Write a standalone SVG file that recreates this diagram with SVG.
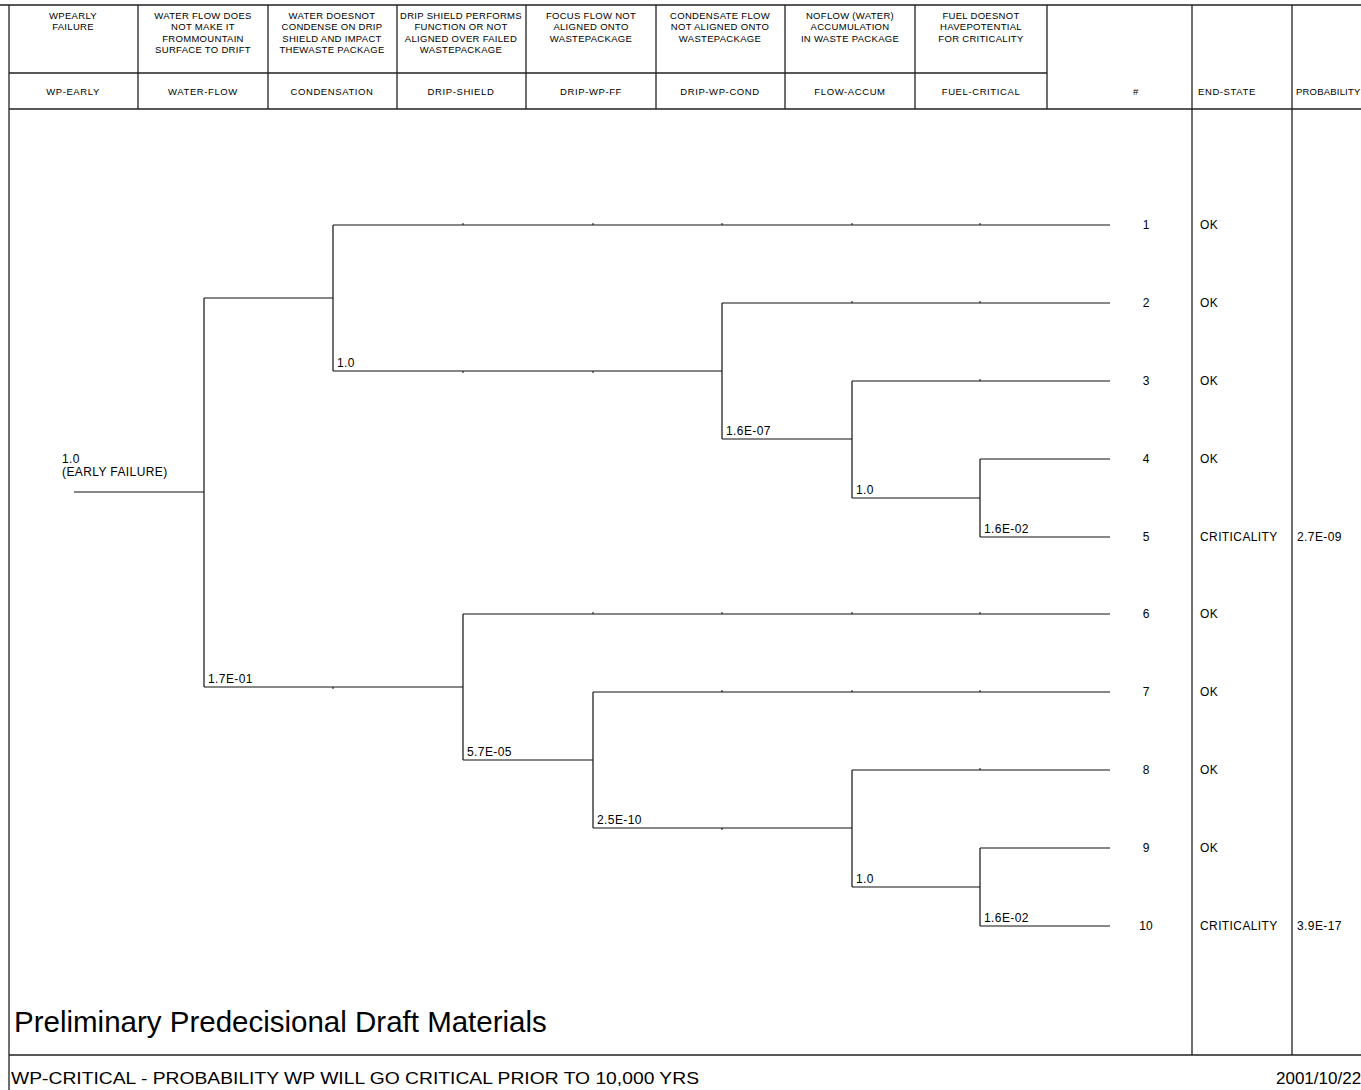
<svg xmlns="http://www.w3.org/2000/svg" width="1361" height="1090" viewBox="0 0 1361 1090">
<style>
text{font-family:"Liberation Sans",Arial,sans-serif;fill:#000}
.h{font-size:9.5px;text-anchor:middle;letter-spacing:0.3px}
.h2{font-size:9.5px;text-anchor:middle;letter-spacing:0.6px}
.l{font-size:12px;letter-spacing:0.4px}
.n{font-size:12px;text-anchor:middle}
.frame{stroke:#222;stroke-width:1.3;fill:none}
.ln{stroke:#111;stroke-width:1.2;fill:none}
.tk{stroke:#111;stroke-width:1;fill:none}
</style>
<rect width="1361" height="1090" fill="#fff"/>
<g id="frame">
<path class="frame" d="M9,5V1090M0,5H1361M9,109H1361M9,73H1047M9,1055H1361"/>
<path class="frame" d="M138,5V109M268,5V109M397,5V109M526,5V109M656,5V109M785,5V109M915,5V109M1047,5V109M1192,5V1055M1292,5V1055"/>
</g>
<g id="header">
<text class="h" y="18.5"><tspan x="73">WPEARLY</tspan><tspan x="73" dy="11.5">FAILURE</tspan></text>
<text class="h" y="18.5"><tspan x="203">WATER FLOW DOES</tspan><tspan x="203" dy="11.5">NOT MAKE IT</tspan><tspan x="203" dy="11.5">FROMMOUNTAIN</tspan><tspan x="203" dy="11.5">SURFACE TO DRIFT</tspan></text>
<text class="h" y="18.5"><tspan x="332">WATER DOESNOT</tspan><tspan x="332" dy="11.5">CONDENSE ON DRIP</tspan><tspan x="332" dy="11.5">SHIELD AND IMPACT</tspan><tspan x="332" dy="11.5">THEWASTE PACKAGE</tspan></text>
<text class="h" y="18.5"><tspan x="461">DRIP SHIELD PERFORMS</tspan><tspan x="461" dy="11.5">FUNCTION OR NOT</tspan><tspan x="461" dy="11.5">ALIGNED OVER FAILED</tspan><tspan x="461" dy="11.5">WASTEPACKAGE</tspan></text>
<text class="h" y="18.5"><tspan x="591">FOCUS FLOW NOT</tspan><tspan x="591" dy="11.5">ALIGNED ONTO</tspan><tspan x="591" dy="11.5">WASTEPACKAGE</tspan></text>
<text class="h" y="18.5"><tspan x="720">CONDENSATE FLOW</tspan><tspan x="720" dy="11.5">NOT ALIGNED ONTO</tspan><tspan x="720" dy="11.5">WASTEPACKAGE</tspan></text>
<text class="h" y="18.5"><tspan x="850">NOFLOW (WATER)</tspan><tspan x="850" dy="11.5">ACCUMULATION</tspan><tspan x="850" dy="11.5">IN WASTE PACKAGE</tspan></text>
<text class="h" y="18.5"><tspan x="981">FUEL DOESNOT</tspan><tspan x="981" dy="11.5">HAVEPOTENTIAL</tspan><tspan x="981" dy="11.5">FOR CRITICALITY</tspan></text>
<text class="h2" x="73" y="95">WP-EARLY</text>
<text class="h2" x="203" y="95">WATER-FLOW</text>
<text class="h2" x="332" y="95">CONDENSATION</text>
<text class="h2" x="461" y="95">DRIP-SHIELD</text>
<text class="h2" x="591" y="95">DRIP-WP-FF</text>
<text class="h2" x="720" y="95">DRIP-WP-COND</text>
<text class="h2" x="850" y="95">FLOW-ACCUM</text>
<text class="h2" x="981" y="95">FUEL-CRITICAL</text>
<text class="h2" x="1136" y="95">#</text>
<text class="h2" x="1198" y="95" style="text-anchor:start">END-STATE</text>
<text class="h2" x="1296" y="95" style="text-anchor:start;letter-spacing:0.2px">PROBABILITY</text>
</g>
<g id="connectors">
<path class="ln" d="M74,492H204M204,298V687M204,298H333M333,225V371M333,225H1110M333,371H722M722,303V439M722,303H1110M722,439H852M852,381V498M852,381H1110M852,498H980M980,459V537M980,459H1110M980,537H1110"/>
<path class="ln" d="M204,687H463M463,614V760M463,614H1110M463,760H593M593,692V828M593,692H1110M593,828H852M852,770V887M852,770H1110M852,887H980M980,848V926M980,848H1110M980,926H1110"/>
<path class="tk" d="M463,223V225M593,223V225M722,223V225M852,223V225M980,223V225M463,371V373M593,371V373M852,303V301M980,303V301M980,381V379M333,687V689M593,614V612M722,614V612M852,614V612M980,614V612M722,692V690M852,692V690M980,692V690M722,828V830M980,770V768"/>
</g>
<g id="root"><text class="l" x="62" y="463">1.0</text><text class="l" x="62" y="476">(EARLY FAILURE)</text></g>
<g id="branch-labels">
<text class="l" x="337" y="367">1.0</text>
<text class="l" x="726" y="435">1.6E-07</text>
<text class="l" x="856" y="494">1.0</text>
<text class="l" x="984" y="533">1.6E-02</text>
<text class="l" x="208" y="683">1.7E-01</text>
<text class="l" x="467" y="756">5.7E-05</text>
<text class="l" x="597" y="824">2.5E-10</text>
<text class="l" x="856" y="883">1.0</text>
<text class="l" x="984" y="922">1.6E-02</text>
</g>
<g id="end-states">
<g id="seq1"><text class="n" x="1146" y="229">1</text><text class="l" x="1200" y="229">OK</text></g>
<g id="seq2"><text class="n" x="1146" y="307">2</text><text class="l" x="1200" y="307">OK</text></g>
<g id="seq3"><text class="n" x="1146" y="385">3</text><text class="l" x="1200" y="385">OK</text></g>
<g id="seq4"><text class="n" x="1146" y="463">4</text><text class="l" x="1200" y="463">OK</text></g>
<g id="seq5"><text class="n" x="1146" y="541">5</text><text class="l" x="1200" y="541">CRITICALITY</text><text class="l" x="1297" y="541">2.7E-09</text></g>
<g id="seq6"><text class="n" x="1146" y="618">6</text><text class="l" x="1200" y="618">OK</text></g>
<g id="seq7"><text class="n" x="1146" y="696">7</text><text class="l" x="1200" y="696">OK</text></g>
<g id="seq8"><text class="n" x="1146" y="774">8</text><text class="l" x="1200" y="774">OK</text></g>
<g id="seq9"><text class="n" x="1146" y="852">9</text><text class="l" x="1200" y="852">OK</text></g>
<g id="seq10"><text class="n" x="1146" y="930">10</text><text class="l" x="1200" y="930">CRITICALITY</text><text class="l" x="1297" y="930">3.9E-17</text></g>
</g>
<g id="footer">
<text x="14" y="1032" style="font-size:29.5px">Preliminary Predecisional Draft Materials</text>
<text x="11" y="1084" style="font-size:17px" textLength="688" lengthAdjust="spacingAndGlyphs">WP-CRITICAL -  PROBABILITY WP WILL GO CRITICAL PRIOR TO 10,000 YRS</text>
<text x="1276" y="1084" style="font-size:17px">2001/10/22</text>
</g>
</svg>
